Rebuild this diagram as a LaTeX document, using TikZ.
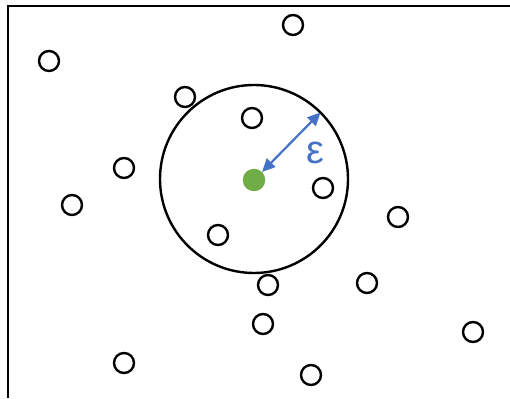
\documentclass[tikz,border=0pt]{standalone}
\usepackage{fontspec}
\setmainfont{Liberation Sans}
\usetikzlibrary{arrows.meta}
\definecolor{ptgreen}{RGB}{112,173,71}
\definecolor{epsblue}{RGB}{68,114,196}
\begin{document}
\begin{tikzpicture}[
        x=1pt, y=1pt,
        pt/.style={circle, draw=black, line width=2.4pt, fill=white, minimum size=20pt, inner sep=0pt},
        core/.style={circle, fill=ptgreen, minimum size=22.5pt, inner sep=0pt},
        ring/.style={circle, draw=black, line width=2.4pt, minimum size=188pt, inner sep=0pt},
        radius/.style={draw=epsblue, line width=2.2pt, {Triangle[length=13pt,width=12pt]}-{Triangle[length=13pt,width=12pt]}},
        lbl/.style={text=epsblue, font=\fontsize{40}{40}\selectfont}
    ]

        \useasboundingbox (0,0) rectangle (510,398);

        % ========================================================
        % FRAME
        % ========================================================
        \draw[line width=2.4pt] (8,0) -- (8,392) -- (510,392);

        % ========================================================
        % EPSILON NEIGHBOURHOOD
        % ========================================================
        \node[ring] (nbhd) at (254,219) {};
        \node[core] (ctr) at (254,218) {};
        \coordinate (rim) at (320.5,285.5);

        \draw[radius] (ctr.north east) -- (rim);
        \node[lbl] (eps) at (315,245) {ε};

        % ========================================================
        % OTHER POINTS
        % ========================================================
        \node[pt] (p1) at (49,337) {};
        \node[pt] (p2) at (293,373) {};
        \node[pt] (p3) at (185,301) {};
        \node[pt] (p4) at (252,280) {};
        \node[pt] (p5) at (124,230) {};
        \node[pt] (p6) at (72,193) {};
        \node[pt] (p7) at (323,210) {};
        \node[pt] (p8) at (398,181) {};
        \node[pt] (p9) at (218,163) {};
        \node[pt] (p10) at (268,113) {};
        \node[pt] (p11) at (367,115) {};
        \node[pt] (p12) at (263,74) {};
        \node[pt] (p13) at (473,66) {};
        \node[pt] (p14) at (124,35) {};
        \node[pt] (p15) at (311,23) {};

    \end{tikzpicture}
\end{document}
